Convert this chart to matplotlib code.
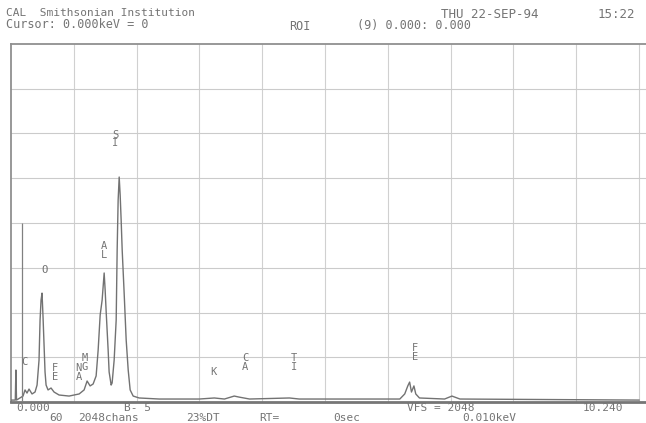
import matplotlib
matplotlib.use("Agg")
import matplotlib.pyplot as plt

# ---- data (energy keV, counts) ----
energy = [0.00, 0.07, 0.08, 0.09, 0.196, 0.229, 0.261, 0.294, 0.343, 0.392, 0.425,
          0.457, 0.474, 0.490, 0.506, 0.523, 0.539, 0.555, 0.572, 0.604, 0.653,
          0.702, 0.784, 0.947, 1.111, 1.192, 1.241, 1.290, 1.339, 1.388, 1.421,
          1.454, 1.486, 1.519, 1.535, 1.552, 1.584, 1.600, 1.633, 1.649, 1.682,
          1.715, 1.731, 1.747, 1.764, 1.780, 1.796, 1.813, 1.845, 1.878, 1.911,
          1.943, 1.992, 2.090, 2.417, 3.070, 3.315, 3.480, 3.640, 3.720, 3.890,
          4.540, 4.700, 6.340, 6.420, 6.470, 6.500, 6.530, 6.570, 6.600, 6.660,
          7.070, 7.190, 7.320, 10.240]
counts = [11, 11, 183, 11, 34, 69, 51, 74, 46, 57, 97,
          240, 469, 583, 623, 480, 326, 172, 97, 69, 80,
          57, 40, 34, 46, 69, 120, 92, 103, 149, 297,
          498, 583, 738, 641, 515, 297, 172, 97, 109, 240,
          469, 869, 1155, 1287, 1184, 1041, 869, 623, 355, 183,
          69, 34, 23, 17, 17, 23, 17, 34, 28, 17,
          23, 17, 17, 46, 92, 114, 57, 92, 46, 23,
          17, 34, 17, 11]

marker_energy = 0.18
marker_counts = 1024

full_scale = 2048
x_max = 10.24

# element labels: (text, energy, counts position)
label_text = ["C", "F\nE", "N\nA", "M\nG", "O", "A\nL", "S\nI", "K", "C\nA", "T\nI", "F\nE"]
label_x = [0.21, 0.72, 1.10, 1.20, 0.55, 1.52, 1.70, 3.30, 3.82, 4.62, 6.59]
label_y = [228, 171, 171, 228, 755, 868, 1505, 171, 228, 228, 285]

# footer texts: (text, energy position, row)
footer_text = ["0.000", "60", "2048chans", "B- 5", "23%DT", "RT=", "0sec",
               "VFS = 2048", "0.010keV", "10.240"]
footer_x = [0.08, 0.62, 1.10, 1.85, 2.85, 4.05, 5.25, 6.45, 7.35, 9.33]
footer_row = [1, 2, 2, 1, 2, 2, 2, 1, 2, 1]

W, H = 646, 423
fig = plt.figure(figsize=(W / 100, H / 100), dpi=100)
fig.patch.set_facecolor("white")
left, right, top, bottom = 11, 646, 44, 402
ax = fig.add_axes([left / W, 1 - bottom / H, (right - left) / W, (bottom - top) / H])
xr = x_max * (right - left) / (639 - left)
ax.set_xlim(0, xr)
ax.set_ylim(0, full_scale)

tc = "#747474"
mono = "DejaVu Sans Mono"

for i in range(1, 11):
    ax.axvline(i * x_max / 10, color="#d0d0d0", lw=0.8, zorder=0)
for j in range(1, 8):
    ax.axhline(j * full_scale / 8, color="#cbcbcb", lw=0.8, zorder=0)

ax.plot(energy, counts, color="#727272", lw=1.0, zorder=3)
ax.vlines(marker_energy, 0, marker_counts, color="#808080", lw=0.9, zorder=3)

for t, x, y in zip(label_text, label_x, label_y):
    ax.text(x, y, t, ha="center", va="center", fontsize=7.5, color=tc, family=mono,
            linespacing=0.85, zorder=4)

for s in ["top", "left", "bottom"]:
    ax.spines[s].set_color("#909090")
    ax.spines[s].set_linewidth(1.3)
ax.spines["bottom"].set_linewidth(2.0)
ax.spines["bottom"].set_color("#767676")
ax.spines["right"].set_visible(False)
ax.set_xticks([])
ax.set_yticks([])

# header
fig.text(6 / W, 1 - 13 / H, "CAL  Smithsonian Institution", fontsize=8, color=tc, family=mono, va="center")
fig.text(6 / W, 1 - 24 / H, "Cursor: 0.000keV = 0", fontsize=8.5, color=tc, family=mono, va="center")
fig.text(289 / W, 1 - 27 / H, "ROI", fontsize=8.5, color=tc, family=mono, va="center")
fig.text(357 / W, 1 - 26 / H, "(9) 0.000: 0.000", fontsize=8.5, color=tc, family=mono, va="center")
fig.text(441 / W, 1 - 14 / H, "THU 22-SEP-94", fontsize=9, color=tc, family=mono, va="center")
fig.text(598 / W, 1 - 14 / H, "15:22", fontsize=9, color=tc, family=mono, va="center")

# footer
for t, x, row in zip(footer_text, footer_x, footer_row):
    px = left + x / xr * (right - left)
    py = 408 if row == 1 else 417.5
    fig.text(px / W, 1 - py / H, t, fontsize=8, color=tc, family=mono, va="center")

fig.savefig("out.png", dpi=100, facecolor="white")
